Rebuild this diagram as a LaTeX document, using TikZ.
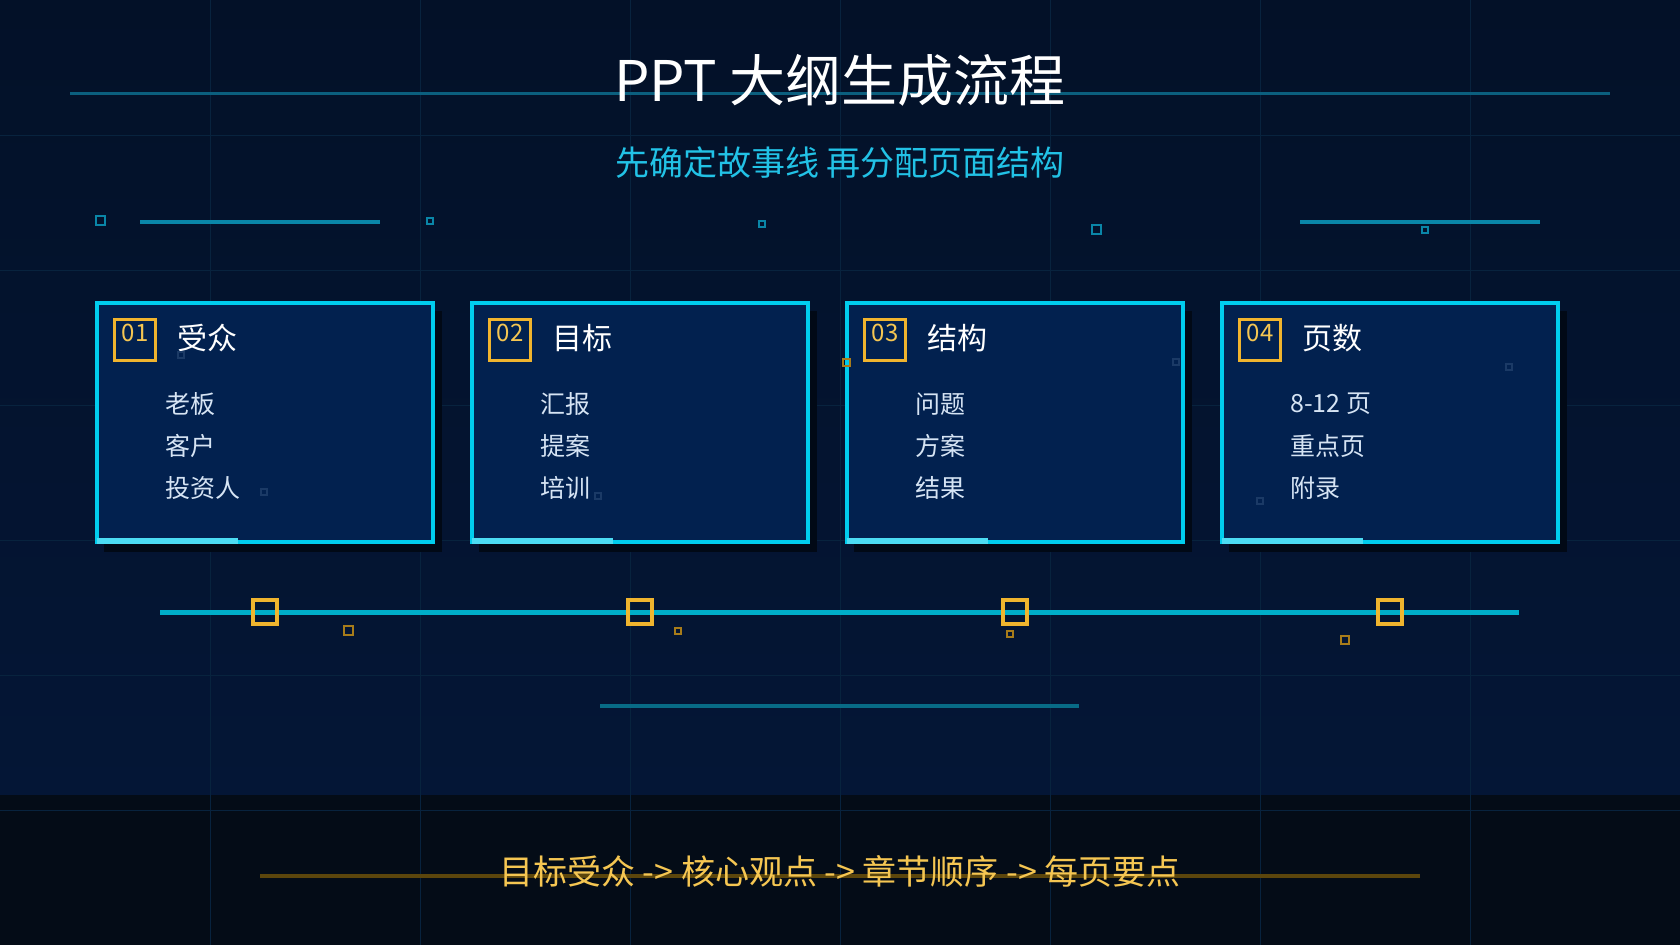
\documentclass[tikz,border=0pt]{standalone}
\usepackage{fontspec}
\setmainfont{Noto Sans CJK SC}
\usetikzlibrary{positioning,calc}

%%% Colours
\definecolor{bgtop}{HTML}{031128}
\definecolor{bgmid}{HTML}{041636}
\definecolor{bgband}{HTML}{040C17}
\definecolor{gridcol}{HTML}{08233E}
\definecolor{tealline}{HTML}{0B5F7E}
\definecolor{decocol}{HTML}{0A86A8}
\definecolor{cardfill}{HTML}{02214F}
\definecolor{cardline}{HTML}{00CDEE}
\definecolor{cardshadow}{HTML}{010916}
\definecolor{gold}{HTML}{F0B42E}
\definecolor{golddim}{HTML}{A87C1A}
\definecolor{goldtext}{HTML}{F5C652}
\definecolor{footline}{HTML}{5C460C}
\definecolor{subcol}{HTML}{22C2E6}
\definecolor{itemcol}{HTML}{D6E4F4}
\definecolor{faintsq}{HTML}{1B3A66}

\tikzset{
  gridline/.style={draw=gridcol, line width=1pt},
  titletxt/.style={text=white, font=\fontsize{56}{60}\selectfont, inner sep=0pt},
  subtxt/.style={text=subcol, font=\fontsize{34}{38}\selectfont, inner sep=0pt},
  decoline/.style={draw=decocol, line width=4pt},
  decosq/.style={draw=decocol, line width=2pt},
  card/.style={draw=cardline, line width=4pt, fill=cardfill, minimum width=336pt,
    minimum height=239pt, inner sep=0pt, anchor=north west},
  cardaccent/.style={draw=cardline!70!white, line width=6pt},
  badge/.style={draw=gold, line width=3pt, minimum size=41pt, inner sep=0pt},
  numtxt/.style={text=goldtext, font=\fontsize{24}{26}\selectfont, inner sep=0pt},
  headtxt/.style={text=white, font=\fontsize{30}{34}\selectfont, inner sep=0pt},
  itemtxt/.style={text=itemcol, font=\fontsize{25}{28}\selectfont, inner sep=0pt},
  timeline/.style={draw=cardline!85!black, line width=5pt},
  marker/.style={draw=gold, line width=4pt, minimum size=24pt, inner sep=0pt},
  footertxt/.style={text=goldtext, font=\fontsize{34}{38}\selectfont, inner sep=0pt},
}

\begin{document}
\begin{tikzpicture}[x=1pt,y=-1pt]
  \useasboundingbox (0,0) rectangle (1680,945);

  %%% Fond et grille
  \shade[top color=bgtop, bottom color=bgmid] (0,0) rectangle (1680,795);
  \fill[bgband] (0,795) rectangle (1680,945);
  \foreach \gx in {210,420,...,1470}
    \draw[gridline] (\gx,0) -- (\gx,945);
  \foreach \gy in {135,270,...,810}
    \draw[gridline] (0,\gy) -- (1680,\gy);

  %%% Titre
  \coordinate (tline-l) at (70,93);
  \coordinate (tline-r) at (1610,93);
  \draw[tealline, line width=3pt] (tline-l) -- (tline-r);
  \node[titletxt] (title) at (840,80) {PPT 大纲生成流程};
  \node[subtxt] (subtitle) at (840,163) {先确定故事线 再分配页面结构};

  %%% Petits décors
  \draw[decoline] (140,222) -- (380,222);
  \draw[decoline] (1300,222) -- (1540,222);
  \foreach \sx/\sy/\ss in {100/220/9, 430/221/6, 762/224/6, 1096/229/9, 1425/230/6}
    \draw[decosq] (\sx-\ss/2,\sy-\ss/2) rectangle ++(\ss,\ss);

  %%% Cartes
  \foreach \n/\head/\items [count=\i from 0] in {
      01/受众/{老板,客户,投资人},
      02/目标/{汇报,提案,培训},
      03/结构/{问题,方案,结果},
      04/页数/{8-12 页,重点页,附录}} {
    \pgfmathsetmacro\cx{95+375*\i}
    % ombre
    \fill[cardshadow] (\cx+9,311) rectangle ++(338,241);
    \node[card] (card\n) at (\cx,301) {};
    \draw[cardaccent] ([xshift=2pt,yshift=3pt]card\n.south west) -- ++(141,0);
    % numéro + titre
    \node[badge, below right=17pt and 18pt of card\n.north west] (badge\n) {};
    \node[numtxt, anchor=north] (num\n) at ([yshift=-6pt]badge\n.north) {\n};
    \node[headtxt, right=20pt of badge\n, yshift=2pt] (head\n) {\head};
    % éléments
    \foreach \entry [count=\k] in \items {
      \node[itemtxt, anchor=west] (item\n-\k)
        at ($(card\n.north west)+(70,61+42*\k)$) {\entry};
    }
  }

  %%% Carrés discrets dans les cartes
  \foreach \fx/\fy in {181/355, 264/492, 598/496, 1176/362, 1509/367, 1260/501}
    \draw[faintsq, line width=1.5pt] (\fx-3,\fy-3) rectangle ++(6,6);
  \draw[golddim, line width=1.5pt] (843,359) rectangle ++(7,7);

  %%% Ligne de temps
  \coordinate (tl-a) at (160,612);
  \coordinate (tl-b) at (1519,612);
  \draw[timeline] (tl-a) -- (tl-b);
  \foreach \n in {01,02,03,04}
    \node[marker] (mark\n) at (card\n.south |- tl-a) {};
  \foreach \gx/\gy/\gs in {348/630/9, 678/631/6, 1010/634/6, 1345/640/8}
    \draw[golddim, line width=2pt] (\gx-\gs/2,\gy-\gs/2) rectangle ++(\gs,\gs);

  \coordinate (bline-l) at (600,706);
  \coordinate (bline-r) at (1079,706);
  \draw[decocol!80!black, line width=4pt] (bline-l) -- (bline-r);

  %%% Pied de page
  \coordinate (fline-l) at (260,876);
  \coordinate (fline-r) at (1420,876);
  \draw[footline, line width=4pt] (fline-l) -- (fline-r);
  \node[footertxt] (footer) at (840,871) {目标受众 -> 核心观点 -> 章节顺序 -> 每页要点};
\end{tikzpicture}
\end{document}
